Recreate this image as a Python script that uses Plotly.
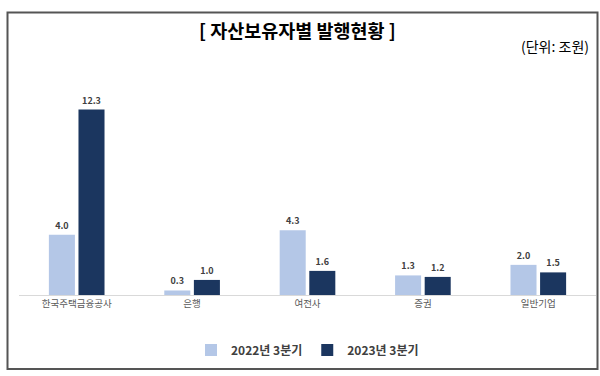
import plotly.graph_objects as go

categories = ["한국주택금융공사", "은행", "여전사", "증권", "일반기업"]
series_names = ["2022년 3분기", "2023년 3분기"]
values_2022 = [4.0, 0.3, 4.3, 1.3, 2.0]
values_2023 = [12.3, 1.0, 1.6, 1.2, 1.5]
colors = ["#B4C7E7", "#1B365F"]

FONT = "Noto Sans CJK KR"

fig = go.Figure()
for name, vals, col in zip(series_names, [values_2022, values_2023], colors):
    fig.add_trace(go.Bar(
        x=categories, y=vals, name=name, marker=dict(color=col, line=dict(width=0)),
        text=[f"<b>{v:.1f}</b>" for v in vals], textposition="outside",
        textfont=dict(family=FONT, size=9, color="#404040"),
        cliponaxis=False,
    ))

L, R, T, B = 19, 4, 84, 81
W, H = 600, 376
pw = W - L - R
ph = H - T - B

def px(x):
    return (x - L) / pw

def py(y):
    return (H - B - y) / ph

fig.update_layout(
    width=W, height=H,
    margin=dict(l=L, r=R, t=T, b=B, pad=0),
    paper_bgcolor="white", plot_bgcolor="white",
    barmode="group", bargap=0.487, bargroupgap=0.12,
    showlegend=True,
    legend=dict(orientation="h", x=0.5, xanchor="center", y=py(350), yanchor="middle",
                font=dict(family=FONT, size=12, color="#404040", weight="bold"),
                itemwidth=30, traceorder="normal"),
    xaxis=dict(showgrid=False, showline=True, linecolor="#D9D9D9", linewidth=1,
               ticks="", tickfont=dict(family=FONT, size=9.5, color="#595959"),
               fixedrange=True),
    yaxis=dict(range=[0, 14], visible=False, showgrid=False, zeroline=False),
    font=dict(family=FONT),
    annotations=[
        dict(text="<b>[ 자산보유자별 발행현황 ]</b>", xref="paper", yref="paper",
             x=px(297), y=py(30), xanchor="center", yanchor="middle", showarrow=False,
             font=dict(family=FONT, size=18.5, color="#000000")),
        dict(text="(단위: 조원)", xref="paper", yref="paper",
             x=px(591), y=py(46), xanchor="right", yanchor="middle", showarrow=False,
             font=dict(family=FONT, size=14, color="#000000")),
    ],
    shapes=[
        dict(type="rect", xref="paper", yref="paper",
             x0=px(7.5), x1=px(597.5), y0=py(369), y1=py(12.5),
             line=dict(color="#555555", width=2), fillcolor="rgba(0,0,0,0)", layer="below"),
    ],
)

fig.write_html("out.html", config={"displayModeBar": False},
               post_script="document.body.style.margin='0px';document.body.style.padding='0px';")
